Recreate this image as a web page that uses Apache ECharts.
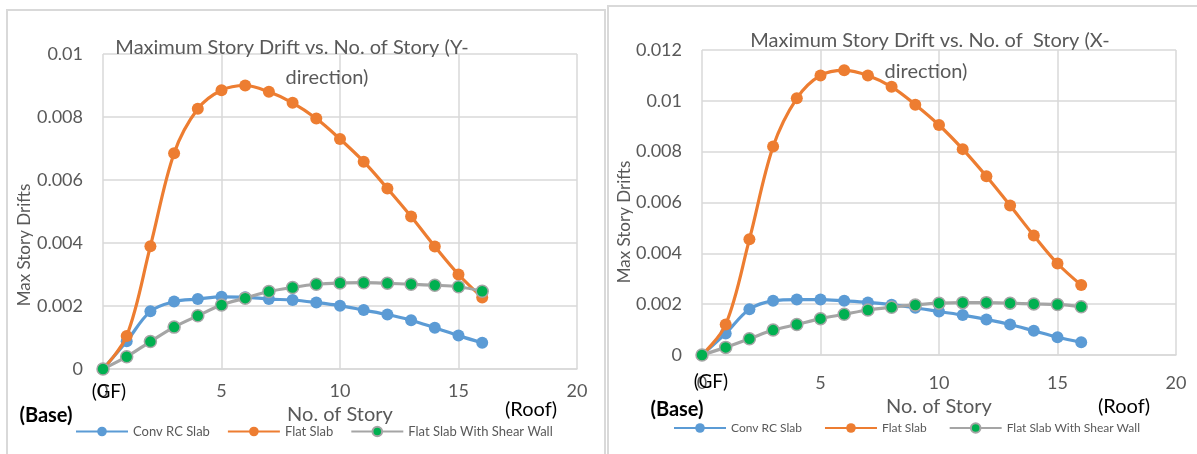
<!DOCTYPE html>
<html>
<head>
<meta charset="utf-8">
<script src="https://cdn.jsdelivr.net/npm/echarts@6/dist/echarts.min.js"></script>
<style>
html,body{margin:0;padding:0;background:#fff;}
#c{width:1197px;height:454px;}
</style>
</head>
<body>
<div id="c"></div>
<script>
// ---- data ----
const stories = [0,1,2,3,4,5,6,7,8,9,10,11,12,13,14,15,16];
const seriesNames = ['Conv RC Slab','Flat Slab','Flat Slab With Shear Wall'];

// Y-direction (left chart)
const yConv  = [0,0.00088,0.00183,0.00214,0.00222,0.00229,0.00228,0.00222,0.00219,0.00211,0.00201,0.00187,0.00173,0.00155,0.00131,0.00106,0.00083];
const yFlat  = [0,0.00105,0.0039,0.00685,0.00826,0.00885,0.0090,0.0088,0.00845,0.00795,0.0073,0.00658,0.00573,0.00484,0.00389,0.0030,0.00227];
const yShear = [0,0.00039,0.00087,0.00133,0.00169,0.00203,0.00225,0.00246,0.00259,0.00269,0.00273,0.00274,0.00272,0.00269,0.00266,0.00261,0.00247];

// X-direction (right chart)
const xConv  = [0,0.00085,0.0018,0.00213,0.00218,0.00218,0.00213,0.00207,0.00198,0.00186,0.00171,0.00157,0.0014,0.0012,0.00095,0.0007,0.0005];
const xFlat  = [0,0.0012,0.00455,0.0082,0.0101,0.011,0.0112,0.011,0.01055,0.00985,0.00905,0.0081,0.00703,0.00588,0.0047,0.0036,0.00275];
const xShear = [0,0.0003,0.00064,0.00098,0.0012,0.00143,0.0016,0.00177,0.00188,0.00197,0.00204,0.00206,0.00206,0.00204,0.00201,0.00199,0.0019];

const titleY1 = 'Maximum Story Drift vs. No. of Story (Y-';
const titleX1 = 'Maximum Story Drift vs. No. of  Story (X-';
const title2  = 'direction)';
const xName = 'No. of Story';
const yName = 'Max Story Drifts';

// ---- styles ----
const FONT = 'Lato';
const GRAY = '#595959';
const GRID = '#D9D9D9';
const colors = ['#5B9BD5','#ED7D31','#A5A5A5'];

function pairs(arr){ return stories.map((s,i)=>[s,arr[i]]); }

function mkSeries(idx, data){
  return data.map((d,k)=>({
    name: seriesNames[k],
    type:'line',
    xAxisIndex: idx, yAxisIndex: idx,
    data: pairs(d),
    smooth: 0.35,
    symbol:'circle',
    symbolSize: 12,
    lineStyle:{color:colors[k], width:3.2},
    itemStyle: k===2 ? {color:'#00B050', borderColor:'#A5A5A5', borderWidth:1.5}
                     : {color:colors[k], borderWidth:0},
    emphasis:{disabled:true},
    z: 2+k
  }));
}

function xAx(idx, margin, gap){
  return {
    type:'value', gridIndex: idx, min:0, max:20, interval:5,
    name: xName, nameLocation:'middle', nameGap: gap,
    nameTextStyle:{color:GRAY, fontFamily:FONT, fontSize:20},
    axisLine:{show:true, lineStyle:{color:GRID, width:1.5}},
    axisTick:{show:false},
    axisLabel:{color:GRAY, fontFamily:FONT, fontSize:18, margin: margin},
    splitLine:{show:true, lineStyle:{color:GRID, width:1.5}}
  };
}
function yAx(idx, max){
  return {
    type:'value', gridIndex: idx, min:0, max:max, interval:0.002,
    axisLine:{show:false}, axisTick:{show:false},
    axisLabel:{color:GRAY, fontFamily:FONT, fontSize:18, margin:20},
    splitLine:{show:true, lineStyle:{color:GRID, width:1.5}}
  };
}

function txt(x,y,t,opt,rot){
  return {type:'text', x:x, y:y, z:50, rotation: rot||0, style:Object.assign({
    text:t, fill:'#000', font:'18px '+FONT, textAlign:'center', textVerticalAlign:'middle'
  }, opt||{})};
}

const TS = {color:GRAY, fontFamily:FONT, fontSize:20, fontWeight:'normal'};

const chart = echarts.init(document.getElementById('c'), null, {renderer:'canvas'});
chart.setOption({
  animation:false,
  backgroundColor:'#fff',
  title:[
    {text:titleY1, left:287, top:33, textAlign:'center', textStyle:TS},
    {text:title2, left:322, top:63, textAlign:'center', textStyle:TS},
    {text:titleX1, left:925, top:26, textAlign:'center', textStyle:TS},
    {text:title2, left:921, top:57, textAlign:'center', textStyle:TS}
  ],
  grid:[
    {left:103, top:54, width:474, height:315},
    {left:702, top:50, width:474, height:305}
  ],
  xAxis:[xAx(0,13,35), xAx(1,19,37)],
  yAxis:[yAx(0,0.01), yAx(1,0.012)],
  legend:[
    {left:70, top:420, itemWidth:52, itemHeight:12, itemGap:17,
     textStyle:{color:GRAY, fontFamily:FONT, fontSize:13}, data:seriesNames, selectedMode:false},
    {left:668, top:417, itemWidth:52, itemHeight:12, itemGap:22,
     textStyle:{color:GRAY, fontFamily:FONT, fontSize:12}, data:seriesNames, selectedMode:false}
  ],
  series:[].concat(mkSeries(0,[yConv,yFlat,yShear]), mkSeries(1,[xConv,xFlat,xShear])),
  graphic:[
    {type:'rect', shape:{x:7,y:10,width:598,height:470}, style:{fill:'none', stroke:GRID, lineWidth:2}, z:0},
    {type:'rect', shape:{x:608,y:6,width:620,height:470}, style:{fill:'none', stroke:GRID, lineWidth:2}, z:0},
    txt(25,245,yName,{fill:GRAY, font:'17px '+FONT}, Math.PI/2),
    txt(625,222,yName,{fill:GRAY, font:'17px '+FONT}, Math.PI/2),
    txt(109,392,'(GF)',{font:'19px '+FONT}),
    txt(711,382,'(GF)',{font:'19px '+FONT}),
    txt(46,416,'(Base)',{font:'bold 20px '+FONT}),
    txt(677,410,'(Base)',{font:'bold 20px '+FONT}),
    txt(531,410,'(Roof)',{font:'20px '+FONT}),
    txt(1124,407,'(Roof)',{font:'20px '+FONT})
  ]
});
</script>
</body>
</html>
